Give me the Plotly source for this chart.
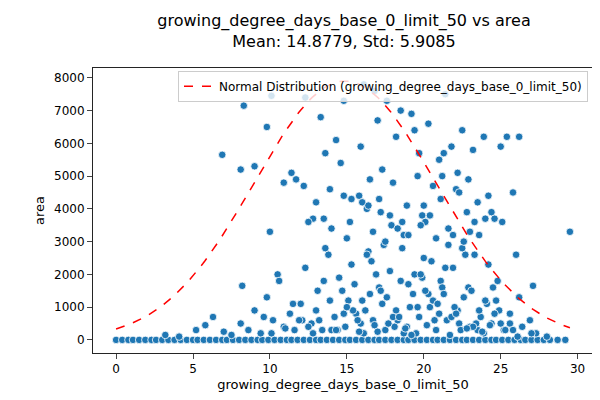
import numpy as np
import plotly.graph_objects as go

mean_val = 14.8779
std_val = 5.9085
curve_peak = 7900

# points sitting at area = 0
zero_x = [0, 0.4, 0.8, 1.1, 1.5, 1.9, 2.3, 2.6, 3.0, 3.4, 3.8, 4.2, 4.6, 5.0, 5.3, 5.7,
          6.1, 6.5, 6.9, 7.2, 7.6, 8.0, 8.4, 8.8, 9.2, 9.5, 9.9, 10.3, 10.7, 11.1, 11.4,
          11.8, 12.2, 12.6, 13.0, 13.3, 13.7, 14.1, 14.5, 14.9, 15.2, 15.6, 16.0, 16.4,
          16.8, 17.1, 17.5, 17.9, 18.3, 18.7, 19.0, 19.4, 19.8, 20.2, 20.6, 20.9, 21.3,
          21.7, 22.1, 22.5, 22.8, 23.2, 23.6, 24.0, 24.4, 24.7, 25.1, 25.5, 25.9, 26.3,
          26.6, 27.0, 27.4, 27.8, 28.2, 28.7, 29.2]

# (x, area) pairs for the low band, below ~3000
low_pts = [
    (3.2, 150), (4.1, 100), (5.2, 300), (5.8, 450), (6.3, 700), (7.0, 250), (7.5, 150),
    (8.1, 500), (8.6, 300), (9.0, 900), (9.4, 200), (9.8, 1300), (10.2, 600), (10.5, 2000),
    (10.9, 400), (11.3, 800), (11.6, 300), (12.0, 1100), (12.3, 2200), (12.7, 500),
    (13.1, 1500), (13.4, 300), (13.8, 2600), (14.2, 700), (14.5, 1900), (14.9, 400),
    (15.3, 2300), (15.6, 800), (16.0, 1200), (16.4, 2700), (16.7, 600), (17.1, 1600),
    (17.5, 300), (17.8, 2100), (18.2, 900), (18.6, 2800), (18.9, 400), (19.3, 1400),
    (19.7, 700), (20.0, 2500), (20.4, 1000), (20.8, 300), (21.1, 1800), (21.5, 600),
    (21.9, 2200), (22.2, 900), (22.6, 1300), (23.0, 400), (23.3, 2600), (23.7, 700),
    (24.1, 1100), (24.4, 500), (24.8, 1800), (25.2, 300), (25.6, 800), (26.0, 2600),
    (26.4, 400), (26.9, 600), (27.3, 200), (28.0, 100), (29.5, 3300),
    (10.1, 200), (11.0, 350), (12.1, 600), (13.0, 900), (13.9, 1200), (14.7, 1500),
    (15.5, 1700), (16.2, 900), (16.9, 2000), (17.6, 1300), (18.3, 600), (19.0, 1700),
    (19.6, 1000), (20.3, 1400), (21.0, 800), (21.6, 2900), (22.3, 500), (22.9, 1600),
    (23.5, 300), (24.2, 2300), (24.9, 900), (25.6, 500),
    (12.5, 400), (13.5, 1800), (14.4, 300), (15.1, 1200), (15.9, 500), (16.6, 2400),
    (17.3, 1100), (18.0, 700), (18.7, 200), (19.4, 2000), (20.1, 1500), (20.7, 600),
    (21.4, 2200), (22.0, 1000), (22.7, 2600), (23.4, 500), (24.0, 1200), (24.6, 800),
    (25.3, 300), (26.1, 100),
    (13.2, 600), (14.0, 300), (14.8, 800), (15.7, 600), (16.5, 1400), (17.4, 2900),
    (18.1, 400), (19.1, 1000), (19.9, 1900), (20.6, 1200), (21.2, 1600), (21.8, 700),
    (22.5, 2800), (23.1, 1500), (23.9, 200), (24.7, 1200),
    (11.5, 1100), (12.8, 200), (14.3, 300), (15.4, 900), (16.3, 2600), (17.7, 500),
    (18.5, 1800), (19.5, 200), (20.5, 2400), (21.3, 1400), (22.4, 300), (23.6, 900),
    (25.0, 500), (26.2, 1300), (9.6, 700), (10.6, 1800), (11.9, 600), (13.6, 2800),
    (15.0, 1000), (16.1, 200), (17.2, 1500), (18.4, 700), (19.8, 2000), (20.9, 1100),
    (22.1, 800), (23.2, 400), (24.5, 1600), (25.8, 300), (27.0, 200),
    (17.0, 250), (18.8, 350), (20.2, 450), (21.7, 150), (23.8, 250), (16.8, 450),
    (19.2, 150), (22.8, 350), (24.3, 450), (15.8, 250),
]

# (x, area) pairs for the higher scattered points
high_pts = [
    (6.9, 5650), (8.1, 5200), (8.3, 7150), (9.0, 5300), (9.8, 6500), (10.1, 7450),
    (10.9, 4800), (11.4, 5100), (10.0, 3300), (12.3, 7400), (12.8, 3700), (13.0, 4200),
    (13.6, 5700), (14.0, 3400), (14.3, 6100), (15.2, 3600), (14.8, 7300), (15.8, 4400),
    (16.1, 7800), (16.5, 4900), (16.8, 7600), (17.0, 6700), (17.3, 5200), (17.6, 7300),
    (17.9, 3500), (18.2, 6200), (18.5, 7000), (18.9, 4100), (19.2, 6900), (19.6, 5000),
    (19.9, 3800), (20.3, 6600), (20.6, 4700), (21.0, 5500), (21.4, 7500), (21.8, 5900),
    (22.1, 4600), (22.5, 6400), (22.8, 3900), (23.2, 5800), (23.5, 4200), (23.9, 6200),
    (24.2, 4400), (24.6, 3700), (25.0, 5900), (25.4, 6200), (25.8, 4500), (26.2, 6200),
    (12.2, 4700), (13.3, 6800), (14.6, 5400), (16.3, 4000), (17.1, 4300), (18.0, 4800),
    (19.4, 6400), (20.1, 3600), (21.2, 5000), (22.3, 4500), (23.0, 3300), (24.4, 3900),
    (15.0, 3100), (16.7, 3300), (17.5, 3000), (18.7, 3200), (19.8, 3500), (20.8, 3100),
    (21.6, 3400), (22.6, 3000), (23.6, 3200), (12.5, 3600), (13.9, 4600), (15.9, 5900),
    (17.2, 3900), (18.3, 3400), (20.4, 3800), (21.9, 3200), (23.3, 3600), (14.8, 4400),
    (16.0, 4200), (17.8, 3800), (19.0, 3200), (20.0, 4100), (21.3, 5700), (22.9, 4900),
    (25.1, 3600), (27.1, 1650), (11.7, 4900), (13.5, 3700), (15.3, 4300), (16.4, 4100),
    (18.6, 3600), (19.7, 5700), (21.1, 4300), (22.2, 5100), (24.0, 3700), (8.2, 1650),
]

xs = zero_x + [p[0] for p in low_pts] + [p[0] for p in high_pts]
ys = [0] * len(zero_x) + [p[1] for p in low_pts] + [p[1] for p in high_pts]

cx = np.linspace(0, 29.5, 200)
cy = curve_peak * np.exp(-0.5 * ((cx - mean_val) / std_val) ** 2)

fig = go.Figure()
fig.add_trace(go.Scatter(x=xs, y=ys, mode='markers', showlegend=False,
                         marker=dict(color='#1f77b4', size=7.5, line=dict(color='white', width=0.8))))
fig.add_trace(go.Scatter(x=cx, y=cy, mode='lines',
                         name='Normal Distribution (growing_degree_days_base_0_limit_50)',
                         line=dict(color='red', dash='dash', width=1.5)))

fig.update_layout(
    width=600, height=400, template='simple_white',
    font=dict(family='DejaVu Sans', size=12, color='black'),
    title=dict(text='growing_degree_days_base_0_limit_50 vs area<br>Mean: 14.8779, Std: 5.9085',
               x=0.56, xanchor='center', y=0.955, font=dict(size=16)),
    margin=dict(l=85, r=15, t=60, b=55),
    legend=dict(x=0.99, y=0.99, xanchor='right', yanchor='top', bgcolor='rgba(255,255,255,0.8)',
                bordercolor='#ccc', borderwidth=1, font=dict(size=12)),
    xaxis=dict(title=dict(text='growing_degree_days_base_0_limit_50', font=dict(size=13), standoff=4),
               range=[-1.5, 31], mirror=True, ticks='outside', tickfont=dict(size=12),
               tickvals=[0, 5, 10, 15, 20, 25, 30], showline=True),
    yaxis=dict(title=dict(text='area', font=dict(size=13), standoff=6), range=[-400, 8300],
               mirror=True, ticks='outside', tickfont=dict(size=12),
               tickvals=list(range(0, 8001, 1000)), showline=True),
)
fig.write_html("out.html")
